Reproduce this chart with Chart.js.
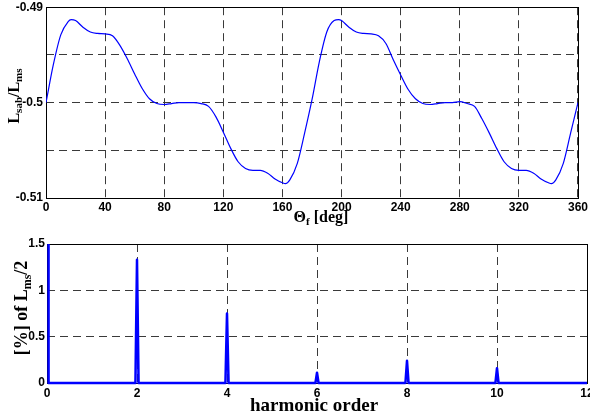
<!DOCTYPE html>
<html>
<head>
<meta charset="utf-8">
<script src="https://cdn.jsdelivr.net/npm/chart.js@4.4.1/dist/chart.umd.min.js"></script>
<style>
html, body { margin: 0; padding: 0; background: #fff; overflow: hidden; width: 590px; height: 420px; }
#topChart { position: absolute; left: 0; top: -3px; }
#bottomChart { position: absolute; left: 0; top: 228px; }
</style>
</head>
<body>
<canvas id="topChart" width="590" height="231"></canvas>
<canvas id="bottomChart" width="600" height="192"></canvas>
<script>
// rotor angle [deg] and L_sab / L_ms
const thetaDeg = [0, 5, 10, 15, 17, 20, 25, 30, 35, 40, 45, 50, 55, 60, 65, 70, 75, 80, 85, 90,
    95, 100, 105, 110, 115, 120, 125, 130, 135, 140, 145, 150, 155, 160, 162, 165, 170, 175, 180,
    185, 190, 195, 198, 200, 205, 210, 215, 220, 225, 230, 235, 240, 245, 250, 255, 260, 265, 270,
    275, 280, 285, 290, 295, 300, 305, 310, 315, 320, 325, 330, 335, 340, 342, 345, 350, 355, 360];
const lsabRatio = [-0.5000, -0.4960, -0.4929, -0.4915, -0.4913, -0.4914, -0.4921, -0.4926, -0.49275, -0.4928,
    -0.4930, -0.4940, -0.4954, -0.4970, -0.4985, -0.4996, -0.5001, -0.5002, -0.5001, -0.5000,
    -0.5000, -0.5000, -0.5001, -0.5004, -0.5015, -0.5031, -0.5048, -0.5062, -0.5069, -0.5071,
    -0.5071, -0.5074, -0.5080, -0.5084, -0.5085, -0.5081, -0.5064, -0.5032, -0.4997,
    -0.4957, -0.4926, -0.4914, -0.4913, -0.4914, -0.4921, -0.4926, -0.49275, -0.4928, -0.4930,
    -0.4938, -0.4955, -0.4971, -0.4986, -0.4996, -0.5001, -0.5002, -0.5001, -0.5000,
    -0.5000, -0.4999, -0.5001, -0.5004, -0.5017, -0.5032, -0.5048, -0.5062, -0.5069, -0.5071,
    -0.5071, -0.5074, -0.5080, -0.5084, -0.5085, -0.5081, -0.5064, -0.5032, -0.5000];

// harmonic spectrum, % of L_ms/2 (DC term runs off the top)
const harmonicOrder = [0, 2, 4, 6, 8, 10];
const harmonicPct = [100, 1.33, 0.75, 0.11, 0.24, 0.16];
const spikeHalfWidth = 0.035;

const tickFont = { family: '"Liberation Sans", Arial, sans-serif', size: 12, weight: 'bold' };
const serif = '"Liberation Serif", "Times New Roman", serif';

function drawRich(ctx, parts, x, y, size, rotate) {
    const fontFor = p => 'bold ' + (p.sub ? Math.round(size * 0.66) : size) + 'px ' + serif;
    ctx.save();
    ctx.translate(x, y);
    if (rotate) ctx.rotate(-Math.PI / 2);
    let total = 0;
    parts.forEach(p => { ctx.font = fontFor(p); total += ctx.measureText(p.t).width; });
    let cx = -total / 2;
    ctx.fillStyle = '#000';
    ctx.textBaseline = 'alphabetic';
    parts.forEach(p => {
        ctx.font = fontFor(p);
        ctx.fillText(p.t, cx, p.sub ? size * 0.2 : 0);
        cx += ctx.measureText(p.t).width;
    });
    ctx.restore();
}

const framePlugin = {
    id: 'frame',
    beforeDatasetsDraw(chart) {
        const { ctx, chartArea: a } = chart;
        ctx.save();
        ctx.strokeStyle = '#000';
        ctx.lineWidth = 1;
        ctx.setLineDash([]);
        const l = Math.round(a.left) + 0.5, t = Math.round(a.top) + 0.5;
        ctx.strokeRect(l, t, Math.round(a.right) - Math.round(a.left), Math.round(a.bottom) - Math.round(a.top));
        ctx.restore();
    },
    afterDraw(chart, args, opts) {
        (opts.titles || []).forEach(tt => drawRich(chart.ctx, tt.parts, tt.x, tt.y, tt.size, tt.rotate));
    }
};

const gridStyle = { color: '#3a3a3a', lineWidth: 1, drawTicks: false };
const borderStyle = { display: false, dash: [8, 5] };

new Chart(document.getElementById('topChart'), {
    type: 'line',
    data: {
        datasets: [{
            data: thetaDeg.map((t, i) => ({ x: t, y: lsabRatio[i] })),
            borderColor: '#0000ff',
            borderWidth: 1.2,
            pointRadius: 0,
            cubicInterpolationMode: 'monotone',
            fill: false
        }]
    },
    options: {
        responsive: false,
        animation: false,
        layout: { padding: { top: 7, right: 10, left: 0, bottom: 0 } },
        plugins: {
            legend: { display: false },
            tooltip: { enabled: false },
            frame: {
                titles: [
                    { parts: [{ t: 'L' }, { t: 'sab', sub: true }, { t: '/L' }, { t: 'ms', sub: true }], x: 19, y: 99, size: 16, rotate: true },
                    { parts: [{ t: 'Θ' }, { t: 'f', sub: true }, { t: ' [deg]' }], x: 321, y: 225, size: 16 }
                ]
            }
        },
        scales: {
            x: {
                type: 'linear', min: 0, max: 360,
                ticks: { stepSize: 40, font: tickFont, color: '#000', padding: 2, maxRotation: 0 },
                grid: gridStyle, border: borderStyle,
                afterFit(scale) { scale.height = 30; }
            },
            y: {
                type: 'linear', min: -0.51, max: -0.49,
                ticks: {
                    stepSize: 0.005, font: tickFont, color: '#000', padding: 3,
                    callback: v => Math.abs(v * 100 - Math.round(v * 100)) < 1e-6 ? String(Number(v.toFixed(2))) : ''
                },
                grid: gridStyle, border: borderStyle,
                afterFit(scale) { scale.width = 46; }
            }
        }
    },
    plugins: [framePlugin]
});

const spikePoints = [];
harmonicOrder.forEach((h, i) => {
    if (h > 0) spikePoints.push({ x: h - spikeHalfWidth, y: 0 });
    spikePoints.push({ x: h, y: harmonicPct[i] });
    spikePoints.push({ x: h + spikeHalfWidth, y: 0 });
});
spikePoints.push({ x: 12, y: 0 });

new Chart(document.getElementById('bottomChart'), {
    type: 'line',
    data: {
        datasets: [{
            data: spikePoints,
            borderColor: '#0000ff',
            borderWidth: 2.5,
            borderJoinStyle: 'round',
            pointRadius: 0,
            tension: 0,
            fill: false,
            clip: { left: 3, top: 0, right: 0, bottom: 3 }
        }]
    },
    options: {
        responsive: false,
        animation: false,
        layout: { padding: { top: 16, right: 13, left: 0, bottom: 0 } },
        plugins: {
            legend: { display: false },
            tooltip: { enabled: false },
            frame: {
                titles: [
                    { parts: [{ t: '[%] of L' }, { t: 'ms', sub: true }, { t: '/2' }], x: 27, y: 80, size: 18, rotate: true },
                    { parts: [{ t: 'harmonic order' }], x: 314, y: 183, size: 19 }
                ]
            }
        },
        scales: {
            x: {
                type: 'linear', min: 0, max: 12,
                ticks: { stepSize: 2, font: tickFont, color: '#000', padding: 3, maxRotation: 0 },
                grid: gridStyle, border: borderStyle,
                afterFit(scale) { scale.height = 37; }
            },
            y: {
                type: 'linear', min: 0, max: 1.5,
                ticks: { stepSize: 0.5, font: tickFont, color: '#000', padding: 2, callback: v => String(v) },
                grid: gridStyle, border: borderStyle,
                afterFit(scale) { scale.width = 47; }
            }
        }
    },
    plugins: [framePlugin]
});
</script>
</body>
</html>
